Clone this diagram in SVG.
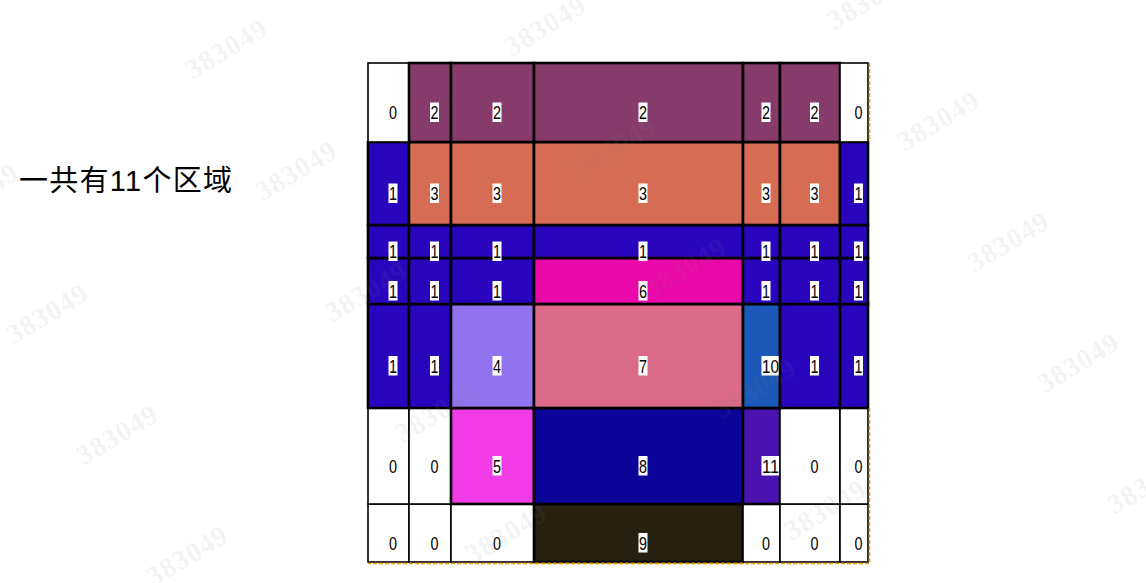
<svg xmlns="http://www.w3.org/2000/svg" xmlns:xlink="http://www.w3.org/1999/xlink" width="1146" height="583" viewBox="0 0 1146 583">
<style>
.w{fill:#fff;stroke:#000;stroke-width:1.6}
.k{stroke:#000;stroke-width:2.6}
.c1{fill:#2906bd}.c2{fill:#873b6a}.c3{fill:#d76c54}.c4{fill:#9273ef}.c5{fill:#f03be6}.c6{fill:#ea08a8}.c7{fill:#da6a87}.c8{fill:#0c0498}.c9{fill:#272011}.c10{fill:#1c58b8}.c11{fill:#4a12b0}
.lb{fill:#fff}
.t{font-family:"Liberation Sans",Arial,sans-serif;font-size:19px;fill:#000}
.title{font-family:"Liberation Sans","Noto Sans CJK SC",sans-serif;font-size:29px;fill:#000}
.wm{font-family:"Liberation Serif",serif;font-weight:bold;font-size:28px;fill:#808080;fill-opacity:.1}
.dash{stroke:#f0a000;stroke-width:1.5;stroke-dasharray:4 2;fill:none}
</style>
<defs>
<text id="wmt" class="wm" x="0" y="0" text-anchor="middle" dy="10" transform="rotate(-31)" letter-spacing="1">383049</text>
</defs>
<rect x="0" y="0" width="1146" height="583" fill="#fff"/>
<g id="title"><text class="title" x="19" y="190.5" textLength="213" lengthAdjust="spacing">一共有11个区域</text></g>
<g id="grid">
<!-- row 6 -->
<g id="r6c0"><rect class="w" x="368" y="504" width="41" height="58"/><text class="t" x="389" y="549.5" textLength="8" lengthAdjust="spacingAndGlyphs">0</text></g>
<g id="r6c1"><rect class="w" x="409" y="504" width="42" height="58"/><text class="t" x="430.5" y="549.5" textLength="8" lengthAdjust="spacingAndGlyphs">0</text></g>
<g id="r6c2"><rect class="w" x="451" y="504" width="83" height="58"/><text class="t" x="493" y="549.5" textLength="8" lengthAdjust="spacingAndGlyphs">0</text></g>
<g id="r6c3"><rect class="k c9" x="534" y="504" width="209" height="58"/><rect class="lb" x="638.5" y="533" width="9" height="19.5"/><text class="t" x="639" y="549.5" textLength="8" lengthAdjust="spacingAndGlyphs">9</text></g>
<g id="r6c4"><rect class="w" x="743" y="504" width="37" height="58"/><text class="t" x="762" y="549.5" textLength="8" lengthAdjust="spacingAndGlyphs">0</text></g>
<g id="r6c5"><rect class="w" x="780" y="504" width="60" height="58"/><text class="t" x="810.5" y="549.5" textLength="8" lengthAdjust="spacingAndGlyphs">0</text></g>
<g id="r6c6"><rect class="w" x="840" y="504" width="28" height="58"/><text class="t" x="854.5" y="549.5" textLength="8" lengthAdjust="spacingAndGlyphs">0</text></g>
<!-- row 5 -->
<g id="r5c0"><rect class="w" x="368" y="408" width="41" height="96"/><text class="t" x="389" y="472.5" textLength="8" lengthAdjust="spacingAndGlyphs">0</text></g>
<g id="r5c1"><rect class="w" x="409" y="408" width="42" height="96"/><text class="t" x="430.5" y="472.5" textLength="8" lengthAdjust="spacingAndGlyphs">0</text></g>
<g id="r5c2"><rect class="k c5" x="451" y="408" width="83" height="96"/><rect class="lb" x="492.5" y="456" width="9" height="19.5"/><text class="t" x="493" y="472.5" textLength="8" lengthAdjust="spacingAndGlyphs">5</text></g>
<g id="r5c3"><rect class="k c8" x="534" y="408" width="209" height="96"/><rect class="lb" x="638.5" y="456" width="9" height="19.5"/><text class="t" x="639" y="472.5" textLength="8" lengthAdjust="spacingAndGlyphs">8</text></g>
<g id="r5c4"><rect class="k c11" x="743" y="408" width="37" height="96"/><rect class="lb" x="761.5" y="456" width="18" height="19.5"/><text class="t" x="762" y="472.5" textLength="17" lengthAdjust="spacingAndGlyphs">11</text></g>
<g id="r5c5"><rect class="w" x="780" y="408" width="60" height="96"/><text class="t" x="810.5" y="472.5" textLength="8" lengthAdjust="spacingAndGlyphs">0</text></g>
<g id="r5c6"><rect class="w" x="840" y="408" width="28" height="96"/><text class="t" x="854.5" y="472.5" textLength="8" lengthAdjust="spacingAndGlyphs">0</text></g>
<!-- row 4 -->
<g id="r4c0"><rect class="k c1" x="368" y="304" width="41" height="104"/><rect class="lb" x="388.5" y="356" width="9" height="19.5"/><text class="t" x="389" y="372.5" textLength="8" lengthAdjust="spacingAndGlyphs">1</text></g>
<g id="r4c1"><rect class="k c1" x="409" y="304" width="42" height="104"/><rect class="lb" x="430" y="356" width="9" height="19.5"/><text class="t" x="430.5" y="372.5" textLength="8" lengthAdjust="spacingAndGlyphs">1</text></g>
<g id="r4c2"><rect class="k c4" x="451" y="304" width="83" height="104"/><rect class="lb" x="492.5" y="356" width="9" height="19.5"/><text class="t" x="493" y="372.5" textLength="8" lengthAdjust="spacingAndGlyphs">4</text></g>
<g id="r4c3"><rect class="k c7" x="534" y="304" width="209" height="104"/><rect class="lb" x="638.5" y="356" width="9" height="19.5"/><text class="t" x="639" y="372.5" textLength="8" lengthAdjust="spacingAndGlyphs">7</text></g>
<g id="r4c4"><rect class="k c10" x="743" y="304" width="37" height="104"/><rect class="lb" x="761.5" y="356" width="18" height="19.5"/><text class="t" x="762" y="372.5" textLength="17" lengthAdjust="spacingAndGlyphs">10</text></g>
<g id="r4c5"><rect class="k c1" x="780" y="304" width="60" height="104"/><rect class="lb" x="810" y="356" width="9" height="19.5"/><text class="t" x="810.5" y="372.5" textLength="8" lengthAdjust="spacingAndGlyphs">1</text></g>
<g id="r4c6"><rect class="k c1" x="840" y="304" width="28" height="104"/><rect class="lb" x="854" y="356" width="9" height="19.5"/><text class="t" x="854.5" y="372.5" textLength="8" lengthAdjust="spacingAndGlyphs">1</text></g>
<!-- row 3 -->
<g id="r3c0"><rect class="k c1" x="368" y="258" width="41" height="46"/><rect class="lb" x="388.5" y="281" width="9" height="19.5"/><text class="t" x="389" y="297.5" textLength="8" lengthAdjust="spacingAndGlyphs">1</text></g>
<g id="r3c1"><rect class="k c1" x="409" y="258" width="42" height="46"/><rect class="lb" x="430" y="281" width="9" height="19.5"/><text class="t" x="430.5" y="297.5" textLength="8" lengthAdjust="spacingAndGlyphs">1</text></g>
<g id="r3c2"><rect class="k c1" x="451" y="258" width="83" height="46"/><rect class="lb" x="492.5" y="281" width="9" height="19.5"/><text class="t" x="493" y="297.5" textLength="8" lengthAdjust="spacingAndGlyphs">1</text></g>
<g id="r3c3"><rect class="k c6" x="534" y="258" width="209" height="46"/><rect class="lb" x="638.5" y="281" width="9" height="19.5"/><text class="t" x="639" y="297.5" textLength="8" lengthAdjust="spacingAndGlyphs">6</text></g>
<g id="r3c4"><rect class="k c1" x="743" y="258" width="37" height="46"/><rect class="lb" x="761.5" y="281" width="9" height="19.5"/><text class="t" x="762" y="297.5" textLength="8" lengthAdjust="spacingAndGlyphs">1</text></g>
<g id="r3c5"><rect class="k c1" x="780" y="258" width="60" height="46"/><rect class="lb" x="810" y="281" width="9" height="19.5"/><text class="t" x="810.5" y="297.5" textLength="8" lengthAdjust="spacingAndGlyphs">1</text></g>
<g id="r3c6"><rect class="k c1" x="840" y="258" width="28" height="46"/><rect class="lb" x="854" y="281" width="9" height="19.5"/><text class="t" x="854.5" y="297.5" textLength="8" lengthAdjust="spacingAndGlyphs">1</text></g>
<!-- row 2 -->
<g id="r2c0"><rect class="k c1" x="368" y="225" width="41" height="33"/><rect class="lb" x="388.5" y="241.5" width="9" height="19.5"/><text class="t" x="389" y="258" textLength="8" lengthAdjust="spacingAndGlyphs">1</text></g>
<g id="r2c1"><rect class="k c1" x="409" y="225" width="42" height="33"/><rect class="lb" x="430" y="241.5" width="9" height="19.5"/><text class="t" x="430.5" y="258" textLength="8" lengthAdjust="spacingAndGlyphs">1</text></g>
<g id="r2c2"><rect class="k c1" x="451" y="225" width="83" height="33"/><rect class="lb" x="492.5" y="241.5" width="9" height="19.5"/><text class="t" x="493" y="258" textLength="8" lengthAdjust="spacingAndGlyphs">1</text></g>
<g id="r2c3"><rect class="k c1" x="534" y="225" width="209" height="33"/><rect class="lb" x="638.5" y="241.5" width="9" height="19.5"/><text class="t" x="639" y="258" textLength="8" lengthAdjust="spacingAndGlyphs">1</text></g>
<g id="r2c4"><rect class="k c1" x="743" y="225" width="37" height="33"/><rect class="lb" x="761.5" y="241.5" width="9" height="19.5"/><text class="t" x="762" y="258" textLength="8" lengthAdjust="spacingAndGlyphs">1</text></g>
<g id="r2c5"><rect class="k c1" x="780" y="225" width="60" height="33"/><rect class="lb" x="810" y="241.5" width="9" height="19.5"/><text class="t" x="810.5" y="258" textLength="8" lengthAdjust="spacingAndGlyphs">1</text></g>
<g id="r2c6"><rect class="k c1" x="840" y="225" width="28" height="33"/><rect class="lb" x="854" y="241.5" width="9" height="19.5"/><text class="t" x="854.5" y="258" textLength="8" lengthAdjust="spacingAndGlyphs">1</text></g>
<!-- row 1 -->
<g id="r1c0"><rect class="k c1" x="368" y="142" width="41" height="83"/><rect class="lb" x="388.5" y="183.5" width="9" height="19.5"/><text class="t" x="389" y="200" textLength="8" lengthAdjust="spacingAndGlyphs">1</text></g>
<g id="r1c1"><rect class="k c3" x="409" y="142" width="42" height="83"/><rect class="lb" x="430" y="183.5" width="9" height="19.5"/><text class="t" x="430.5" y="200" textLength="8" lengthAdjust="spacingAndGlyphs">3</text></g>
<g id="r1c2"><rect class="k c3" x="451" y="142" width="83" height="83"/><rect class="lb" x="492.5" y="183.5" width="9" height="19.5"/><text class="t" x="493" y="200" textLength="8" lengthAdjust="spacingAndGlyphs">3</text></g>
<g id="r1c3"><rect class="k c3" x="534" y="142" width="209" height="83"/><rect class="lb" x="638.5" y="183.5" width="9" height="19.5"/><text class="t" x="639" y="200" textLength="8" lengthAdjust="spacingAndGlyphs">3</text></g>
<g id="r1c4"><rect class="k c3" x="743" y="142" width="37" height="83"/><rect class="lb" x="761.5" y="183.5" width="9" height="19.5"/><text class="t" x="762" y="200" textLength="8" lengthAdjust="spacingAndGlyphs">3</text></g>
<g id="r1c5"><rect class="k c3" x="780" y="142" width="60" height="83"/><rect class="lb" x="810" y="183.5" width="9" height="19.5"/><text class="t" x="810.5" y="200" textLength="8" lengthAdjust="spacingAndGlyphs">3</text></g>
<g id="r1c6"><rect class="k c1" x="840" y="142" width="28" height="83"/><rect class="lb" x="854" y="183.5" width="9" height="19.5"/><text class="t" x="854.5" y="200" textLength="8" lengthAdjust="spacingAndGlyphs">1</text></g>
<!-- row 0 -->
<g id="r0c0"><rect class="w" x="368" y="63" width="41" height="79"/><text class="t" x="389" y="119" textLength="8" lengthAdjust="spacingAndGlyphs">0</text></g>
<g id="r0c1"><rect class="k c2" x="409" y="63" width="42" height="79"/><rect class="lb" x="430" y="102.5" width="9" height="19.5"/><text class="t" x="430.5" y="119" textLength="8" lengthAdjust="spacingAndGlyphs">2</text></g>
<g id="r0c2"><rect class="k c2" x="451" y="63" width="83" height="79"/><rect class="lb" x="492.5" y="102.5" width="9" height="19.5"/><text class="t" x="493" y="119" textLength="8" lengthAdjust="spacingAndGlyphs">2</text></g>
<g id="r0c3"><rect class="k c2" x="534" y="63" width="209" height="79"/><rect class="lb" x="638.5" y="102.5" width="9" height="19.5"/><text class="t" x="639" y="119" textLength="8" lengthAdjust="spacingAndGlyphs">2</text></g>
<g id="r0c4"><rect class="k c2" x="743" y="63" width="37" height="79"/><rect class="lb" x="761.5" y="102.5" width="9" height="19.5"/><text class="t" x="762" y="119" textLength="8" lengthAdjust="spacingAndGlyphs">2</text></g>
<g id="r0c5"><rect class="k c2" x="780" y="63" width="60" height="79"/><rect class="lb" x="810" y="102.5" width="9" height="19.5"/><text class="t" x="810.5" y="119" textLength="8" lengthAdjust="spacingAndGlyphs">2</text></g>
<g id="r0c6"><rect class="w" x="840" y="63" width="28" height="79"/><text class="t" x="854.5" y="119" textLength="8" lengthAdjust="spacingAndGlyphs">0</text></g>
</g>
<g id="frame-dash">
<path class="dash" d="M869.5 63V142"/>
<path class="dash" d="M869.5 408V563.5H534"/>
<path class="dash" d="M743 563.5H368"/>
</g>
<g id="watermarks">
<use xlink:href="#wmt" transform="translate(-23 192)"/>
<use xlink:href="#wmt" transform="translate(47 313)"/>
<use xlink:href="#wmt" transform="translate(117 434)"/>
<use xlink:href="#wmt" transform="translate(187 555)"/>
<use xlink:href="#wmt" transform="translate(226 48)"/>
<use xlink:href="#wmt" transform="translate(296 170)"/>
<use xlink:href="#wmt" transform="translate(366 291)"/>
<use xlink:href="#wmt" transform="translate(436 412)"/>
<use xlink:href="#wmt" transform="translate(506 533)"/>
<use xlink:href="#wmt" transform="translate(545 25)"/>
<use xlink:href="#wmt" transform="translate(615 146)"/>
<use xlink:href="#wmt" transform="translate(685 267)"/>
<use xlink:href="#wmt" transform="translate(755 388)"/>
<use xlink:href="#wmt" transform="translate(825 509)"/>
<use xlink:href="#wmt" transform="translate(868 -1)"/>
<use xlink:href="#wmt" transform="translate(938 120)"/>
<use xlink:href="#wmt" transform="translate(1008 241)"/>
<use xlink:href="#wmt" transform="translate(1078 362)"/>
<use xlink:href="#wmt" transform="translate(1148 483)"/>
</g>
</svg>
